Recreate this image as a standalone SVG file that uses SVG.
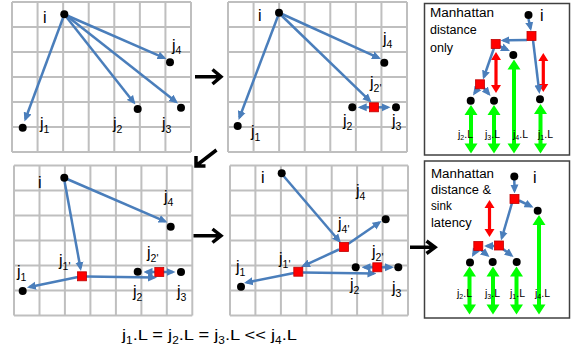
<svg xmlns="http://www.w3.org/2000/svg" width="577" height="356" viewBox="0 0 577 356">
<style>
.grid{stroke:#bfbfbf;stroke-width:2;fill:none}
.box{stroke:#404040;stroke-width:1.5;fill:#fff}
.con{stroke:#4a7ebb;stroke-width:2.5;fill:none;marker-end:url(#ah)}
.dot{fill:#000}
.sq{fill:#ff0000;stroke:#c00000;stroke-width:0.8}
.lbl{font-family:"Liberation Sans",Arial,sans-serif;font-size:16px;fill:#000}
.sub{font-size:10.5px}
.txt{font-family:"Liberation Sans",Arial,sans-serif;font-size:12px;fill:#000}
.sl{font-family:"Liberation Sans",Arial,sans-serif;font-size:10.5px;fill:#000}
.ssub{font-size:7px}
.green{fill:#00ff00}
.red{fill:#ff0000}
.big{stroke:#000;stroke-width:3.5;fill:none}
.cap{font-family:"Liberation Sans",Arial,sans-serif;font-size:15.5px;fill:#000}
.csub{font-size:10px}
</style>
<defs>
<marker id="ah" viewBox="0 0 10 10" refX="7" refY="5" markerUnits="userSpaceOnUse" markerWidth="9" markerHeight="9" orient="auto">
<path d="M0,0.5 L10,5 L0,9.5 Z" fill="#4a7ebb"/>
</marker>
</defs>
<rect width="577" height="356" fill="#fff"/>
<g id="grids">
<path class="grid" d="M12,2V152M37.57,2V152M63.14,2V152M88.71,2V152M114.29,2V152M139.86,2V152M165.43,2V152M191,2V152M12,2H191M12,27H191M12,52H191M12,77H191M12,102H191M12,127H191M12,152H191"/>
<path class="grid" d="M228,2V152M253.57,2V152M279.14,2V152M304.71,2V152M330.29,2V152M355.86,2V152M381.43,2V152M407,2V152M228,2H407M228,27H407M228,52H407M228,77H407M228,102H407M228,127H407M228,152H407"/>
<path class="grid" d="M14,165.5V315.5M39.5,165.5V315.5M64.9,165.5V315.5M90.4,165.5V315.5M115.9,165.5V315.5M141.4,165.5V315.5M166.8,165.5V315.5M192.3,165.5V315.5M14,165.5H192.3M14,190.5H192.3M14,215.5H192.3M14,240.5H192.3M14,265.5H192.3M14,290.5H192.3M14,315.5H192.3"/>
<path class="grid" d="M230,165.5V315.5M255.4,165.5V315.5M280.9,165.5V315.5M306.3,165.5V315.5M331.7,165.5V315.5M357.1,165.5V315.5M382.6,165.5V315.5M408,165.5V315.5M230,165.5H408M230,190.5H408M230,215.5H408M230,240.5H408M230,265.5H408M230,290.5H408M230,315.5H408"/>
<rect class="box" x="424.5" y="3.5" width="145" height="151.5"/>
<rect class="box" x="424.5" y="161" width="145" height="157"/>
</g>
<g id="box-texts">
<text class="txt" x="430" y="17" textLength="64" lengthAdjust="spacingAndGlyphs">Manhattan</text>
<text class="txt" x="430" y="34.3" textLength="46.7" lengthAdjust="spacingAndGlyphs">distance</text>
<text class="txt" x="430" y="51.5" textLength="23" lengthAdjust="spacingAndGlyphs">only</text>
<text class="txt" x="431" y="177.5" textLength="63" lengthAdjust="spacingAndGlyphs">Manhattan</text>
<text class="txt" x="431" y="194" textLength="60" lengthAdjust="spacingAndGlyphs">distance &amp;</text>
<text class="txt" x="431" y="210.3" textLength="20.7" lengthAdjust="spacingAndGlyphs">sink</text>
<text class="txt" x="431" y="226.5" textLength="40.7" lengthAdjust="spacingAndGlyphs">latency</text>
</g>
<g id="latency-arrows">
<polygon class="green" points="471,105 477.5,115 473,115 473,143.5 477.5,143.5 471,153.5 464.5,143.5 469,143.5 469,115 464.5,115"/>
<polygon class="green" points="494,105 500.5,115 496,115 496,143.5 500.5,143.5 494,153.5 487.5,143.5 492,143.5 492,115 487.5,115"/>
<polygon class="green" points="514,59.5 520.5,69.5 516,69.5 516,143.5 520.5,143.5 514,153.5 507.5,143.5 512,143.5 512,69.5 507.5,69.5"/>
<polygon class="green" points="540.5,104 547,114 542.5,114 542.5,143.5 547,143.5 540.5,153.5 534,143.5 538.5,143.5 538.5,114 534,114"/>
<polygon class="green" points="469.5,266.5 476,276.5 471.5,276.5 471.5,304.5 476,304.5 469.5,314.5 463,304.5 467.5,304.5 467.5,276.5 463,276.5"/>
<polygon class="green" points="493,266.5 499.5,276.5 495,276.5 495,304.5 499.5,304.5 493,314.5 486.5,304.5 491,304.5 491,276.5 486.5,276.5"/>
<polygon class="green" points="516.5,266.5 523,276.5 518.5,276.5 518.5,304.5 523,304.5 516.5,314.5 510,304.5 514.5,304.5 514.5,276.5 510,276.5"/>
<polygon class="green" points="539,215 545.5,225 541,225 541,304.5 545.5,304.5 539,314.5 532.5,304.5 537,304.5 537,225 532.5,225"/>
<polygon class="red" points="496,52 501,60 497.6,60 497.6,85 501,85 496,93 491,85 494.4,85 494.4,60 491,60"/>
<polygon class="red" points="543.3,53 548.3,61 544.9,61 544.9,84 548.3,84 543.3,92 538.3,84 541.7,84 541.7,61 538.3,61"/>
<polygon class="red" points="489.5,200 494.5,208 491.1,208 491.1,229 494.5,229 489.5,237 484.5,229 487.9,229 487.9,208 484.5,208"/>
</g>
<g id="connectors">
<path class="con" d="M63,18L25.4,119"/>
<path class="con" d="M67,15.5L164,57.9"/>
<path class="con" d="M66,16.5L133.8,102.4"/>
<path class="con" d="M67,16L175.9,101.8"/>
<path class="con" d="M278,16L239.5,117.5"/>
<path class="con" d="M282,14L378.5,57.9"/>
<path class="con" d="M281,15L369.6,100.6"/>
<path class="con" d="M374,107.3H360.4"/>
<path class="con" d="M374,107.3H387.8"/>
<path class="con" d="M64.5,181L80.5,268.3"/>
<path class="con" d="M67,179L165,221.4"/>
<path class="con" d="M78,277L29.6,287"/>
<path class="con" d="M86,276.5L154.3,277.5"/>
<path class="con" d="M159.3,272H146.2"/>
<path class="con" d="M159.3,272H172.8"/>
<path class="con" d="M284,176.5L339.2,241"/>
<path class="con" d="M348,244L379.3,222.5"/>
<path class="con" d="M339,249.5L303.5,265.9"/>
<path class="con" d="M294,273L246.6,282.5"/>
<path class="con" d="M303,272.5L373.8,273.5"/>
<path class="con" d="M377.3,267.3H364.2"/>
<path class="con" d="M377.3,267.3H391.3"/>
<path class="con" d="M528.5,19L530.5,28.4"/>
<path class="con" d="M527,40L503.2,40.4"/>
<path class="con" d="M499,46L507.5,49.9"/>
<path class="con" d="M494,48L483.9,77"/>
<path class="con" d="M478,88L474.5,93.3"/>
<path class="con" d="M483,87L488.8,93.9"/>
<path class="con" d="M533,40L539.2,91.3"/>
<path class="con" d="M514.3,180L514.5,190.8"/>
<path class="con" d="M519,200.5L531.1,206.3"/>
<path class="con" d="M512,203L501.8,237.9"/>
<path class="con" d="M494,246H486.7"/>
<path class="con" d="M503,249L511.4,255.4"/>
<path class="con" d="M476,250L473.3,254.7"/>
<path class="con" d="M481,250L487.4,255.3"/>
</g>
<g id="panel1-nodes">
<g id="p1-i"><circle class="dot" cx="64.3" cy="14.3" r="4"/><text class="lbl" x="43" y="22.7">i</text></g>
<g id="p1-j4"><circle class="dot" cx="170" cy="62.3" r="4"/><text class="lbl" x="172" y="51.4">j<tspan class="sub" dy="3">4</tspan></text></g>
<g id="p1-j2"><circle class="dot" cx="137.7" cy="109" r="4"/><text class="lbl" x="113" y="129">j<tspan class="sub" dy="4">2</tspan></text></g>
<g id="p1-j3"><circle class="dot" cx="181" cy="107.7" r="4"/><text class="lbl" x="162" y="129">j<tspan class="sub" dy="4">3</tspan></text></g>
<g id="p1-j1"><circle class="dot" cx="22.7" cy="127.7" r="4"/><text class="lbl" x="40" y="129">j<tspan class="sub" dy="4">1</tspan></text></g>
</g>
<g id="panel2-nodes">
<g id="p2-i"><circle class="dot" cx="279" cy="12.7" r="4"/><text class="lbl" x="258" y="20.7">i</text></g>
<g id="p2-j4"><circle class="dot" cx="384.3" cy="62.7" r="4"/><text class="lbl" x="383" y="44">j<tspan class="sub" dy="4">4</tspan></text></g>
<g id="p2-j2p"><rect class="sq" x="369.5" y="102.8" width="9" height="9"/><text class="lbl" x="370" y="88">j<tspan class="sub" dy="4">2'</tspan></text></g>
<g id="p2-j2"><circle class="dot" cx="352.3" cy="107.3" r="4"/><text class="lbl" x="343" y="125.7">j<tspan class="sub" dy="4">2</tspan></text></g>
<g id="p2-j3"><circle class="dot" cx="396" cy="107.3" r="4"/><text class="lbl" x="392" y="125.7">j<tspan class="sub" dy="4">3</tspan></text></g>
<g id="p2-j1"><circle class="dot" cx="237.7" cy="126" r="4"/><text class="lbl" x="251" y="137.3">j<tspan class="sub" dy="4">1</tspan></text></g>
</g>
<g id="panel4-nodes">
<g id="p4-i"><circle class="dot" cx="64.3" cy="177.7" r="4"/><text class="lbl" x="38" y="188.3">i</text></g>
<g id="p4-j4"><circle class="dot" cx="170.7" cy="226.7" r="4"/><text class="lbl" x="164" y="202.3">j<tspan class="sub" dy="4">4</tspan></text></g>
<g id="p4-j1p"><rect class="sq" x="77.5" y="271.8" width="9" height="9"/><text class="lbl" x="59" y="265.7">j<tspan class="sub" dy="4">1'</tspan></text></g>
<g id="p4-j1"><circle class="dot" cx="22.7" cy="291" r="4"/><text class="lbl" x="17" y="277.3">j<tspan class="sub" dy="4">1</tspan></text></g>
<g id="p4-j2"><circle class="dot" cx="137.7" cy="271.7" r="4"/><text class="lbl" x="133" y="296.7">j<tspan class="sub" dy="4">2</tspan></text></g>
<g id="p4-j2p"><rect class="sq" x="154.8" y="267.5" width="9" height="9"/><text class="lbl" x="147" y="258">j<tspan class="sub" dy="4">2'</tspan></text></g>
<g id="p4-j3"><circle class="dot" cx="181" cy="272" r="4"/><text class="lbl" x="177" y="296.7">j<tspan class="sub" dy="4">3</tspan></text></g>
</g>
<g id="panel5-nodes">
<g id="p5-i"><circle class="dot" cx="281.7" cy="173.3" r="4"/><text class="lbl" x="261" y="183.3">i</text></g>
<g id="p5-j4"><circle class="dot" cx="385.7" cy="219.3" r="4"/><text class="lbl" x="356" y="195.7">j<tspan class="sub" dy="4">4</tspan></text></g>
<g id="p5-j4p"><rect class="sq" x="339.5" y="242.5" width="9" height="9"/><text class="lbl" x="338" y="229">j<tspan class="sub" dy="4">4'</tspan></text></g>
<g id="p5-j1p"><rect class="sq" x="293.8" y="267.2" width="9" height="9"/><text class="lbl" x="279" y="264">j<tspan class="sub" dy="4">1'</tspan></text></g>
<g id="p5-j1"><circle class="dot" cx="241" cy="286.7" r="4"/><text class="lbl" x="236" y="271.7">j<tspan class="sub" dy="4">1</tspan></text></g>
<g id="p5-j2"><circle class="dot" cx="355.7" cy="267.3" r="4"/><text class="lbl" x="350" y="289.7">j<tspan class="sub" dy="4">2</tspan></text></g>
<g id="p5-j2p"><rect class="sq" x="372.8" y="262.8" width="9" height="9"/><text class="lbl" x="372" y="257.3">j<tspan class="sub" dy="4">2'</tspan></text></g>
<g id="p5-j3"><circle class="dot" cx="398.3" cy="267.3" r="4"/><text class="lbl" x="392" y="293">j<tspan class="sub" dy="4">3</tspan></text></g>
</g>
<g id="panel3-nodes">
<g id="p3-i"><circle class="dot" cx="528.5" cy="15" r="4"/><text class="lbl" x="540" y="21">i</text></g>
<rect id="p3-s1" class="sq" x="527" y="31.5" width="9" height="9"/>
<rect id="p3-s2" class="sq" x="491.2" y="39.5" width="9" height="9"/>
<rect id="p3-s3" class="sq" x="475.5" y="79.8" width="9" height="9"/>
<circle id="p3-j4" class="dot" cx="513.3" cy="55" r="4"/>
<circle id="p3-j1" class="dot" cx="540" cy="99.3" r="4"/>
<circle id="p3-j2" class="dot" cx="470.7" cy="100.7" r="4"/>
<circle id="p3-j3" class="dot" cx="494" cy="100.7" r="4"/>
<text class="sl" x="458" y="137.5">j<tspan class="ssub" dy="2">2</tspan><tspan dy="-2">.L</tspan></text>
<text class="sl" x="485" y="137.5">j<tspan class="ssub" dy="2">3</tspan><tspan dy="-2">.L</tspan></text>
<text class="sl" x="513" y="137.5">j<tspan class="ssub" dy="2">4</tspan><tspan dy="-2">.L</tspan></text>
<text class="sl" x="538" y="137.5">j<tspan class="ssub" dy="2">1</tspan><tspan dy="-2">.L</tspan></text>
</g>
<g id="panel6-nodes">
<g id="p6-i"><circle class="dot" cx="514.3" cy="176.5" r="4"/><text class="lbl" x="533" y="183">i</text></g>
<rect id="p6-s1" class="sq" x="510" y="194.5" width="9" height="9"/>
<rect id="p6-s2" class="sq" x="494.5" y="241" width="9" height="9"/>
<rect id="p6-s3" class="sq" x="473.8" y="241.5" width="9" height="9"/>
<circle id="p6-j4" class="dot" cx="537.7" cy="210.7" r="4"/>
<circle id="p6-j2" class="dot" cx="470" cy="262.5" r="4"/>
<circle id="p6-j3" class="dot" cx="492.7" cy="262" r="4"/>
<circle id="p6-j1" class="dot" cx="516.7" cy="262" r="4"/>
<text class="sl" x="457" y="296.5">j<tspan class="ssub" dy="2">2</tspan><tspan dy="-2">.L</tspan></text>
<text class="sl" x="485" y="296.5">j<tspan class="ssub" dy="2">3</tspan><tspan dy="-2">.L</tspan></text>
<text class="sl" x="510" y="296.5">j<tspan class="ssub" dy="2">1</tspan><tspan dy="-2">.L</tspan></text>
<text class="sl" x="535" y="296.5">j<tspan class="ssub" dy="2">4</tspan><tspan dy="-2">.L</tspan></text>
</g>
<g id="step-arrows">
<path class="big" d="M195,76.7H220M212.5,69.5L221,76.7L212.5,84"/>
<path class="big" d="M216.5,150L197,165M196,156V166H205.5"/>
<path class="big" d="M193.5,235.7H220M212.5,229L221,235.7L212.5,242.5"/>
<path class="big" d="M410,247.3H434M426.5,241L435,247.3L426.5,253.5"/>
</g>
<text class="cap" x="122" y="340" textLength="175" lengthAdjust="spacingAndGlyphs">j<tspan class="csub" dy="4">1</tspan><tspan dy="-4">.L = j</tspan><tspan class="csub" dy="4">2</tspan><tspan dy="-4">.L = j</tspan><tspan class="csub" dy="4">3</tspan><tspan dy="-4">.L &lt;&lt; j</tspan><tspan class="csub" dy="4">4</tspan><tspan dy="-4">.L</tspan></text>
</svg>
